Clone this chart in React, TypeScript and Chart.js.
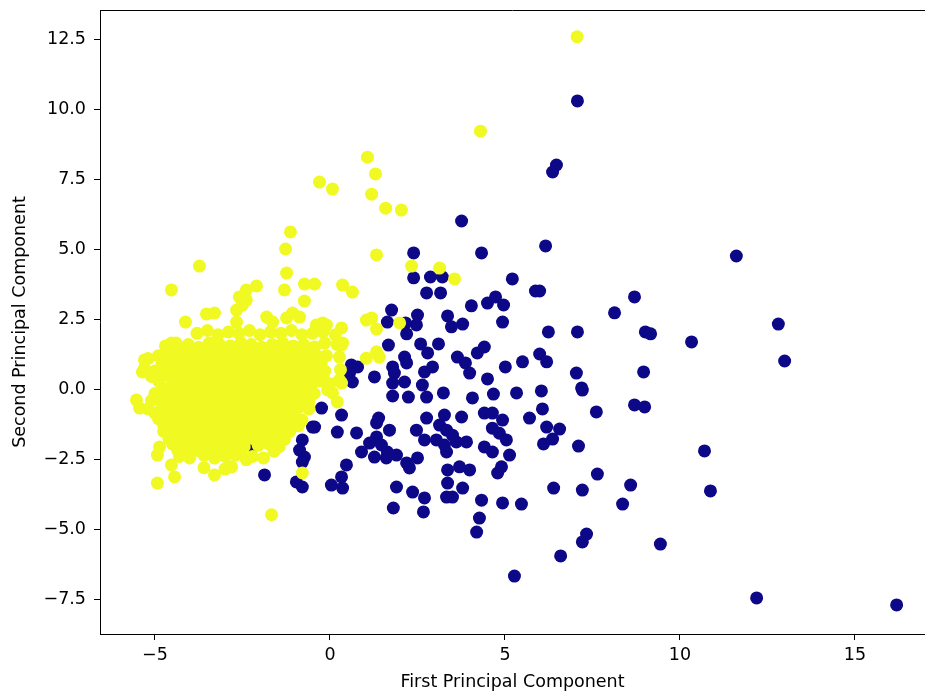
import { useEffect, useRef } from 'react';
import { Chart, registerables } from 'chart.js';

Chart.register(...registerables);

// Malignant (label 0) points: [PC1, PC2]
const malignantPoints: [number, number][] = [
  [7.07, 10.3], [6.47, 8.01], [6.36, 7.76], [3.76, 6.01], [6.16, 5.12], [2.39, 4.87], [4.33, 4.87], [11.61, 4.76],
  [5.99, 3.51], [8.7, 3.3], [8.13, 2.73], [6.24, 2.05], [7.07, 2.05], [9.01, 2.05], [9.16, 1.98], [10.33, 1.69],
  [12.81, 2.33], [12.99, 1.01], [5.99, 1.26], [6.19, 0.98], [7.04, 0.58], [7.19, 0.05], [7.21, -0.03], [8.96, 0.62],
  [6.04, -0.06], [8.7, -0.56], [8.99, -0.63], [7.61, -0.81], [6.07, -0.7], [6.19, -1.35], [6.56, -1.42], [6.36, -1.78],
  [6.1, -1.95], [7.1, -2.03], [10.7, -2.2], [7.64, -3.03], [6.39, -3.53], [7.21, -3.6], [8.59, -3.42], [8.36, -4.1],
  [10.87, -3.63], [7.33, -5.17], [7.21, -5.45], [6.59, -5.95], [9.44, -5.53], [12.19, -7.45], [16.19, -7.7], [5.27, -6.67],
  [1.79, -0.24], [2.24, -0.28], [2.76, -0.28], [3.24, -0.13], [4.07, -0.31], [4.67, -0.17], [5.33, -0.13], [0.33, -0.92],
  [1.39, -1.03], [1.33, -1.2], [2.76, -1.03], [3.27, -0.92], [3.76, -0.99], [4.41, -0.85], [4.64, -0.85], [4.93, -1.1],
  [5.7, -1.03], [-0.44, -1.35], [0.21, -1.53], [0.76, -1.56], [1.7, -1.46], [2.47, -1.46], [3.13, -1.28], [3.33, -1.46],
  [3.5, -1.64], [3.04, -1.81], [3.61, -1.88], [3.9, -1.88], [4.64, -1.39], [4.84, -1.57], [5.04, -1.81], [-0.79, -1.81],
  [-0.73, -2.42], [1.33, -1.7], [1.13, -1.92], [1.47, -1.99], [1.64, -2.24], [0.9, -2.24], [1.27, -2.42], [1.61, -2.45],
  [1.9, -2.35], [2.7, -1.81], [3.27, -1.99], [3.33, -2.24], [4.41, -2.06], [4.64, -2.24], [5.13, -2.35], [2.5, -2.45],
  [2.19, -2.63], [2.27, -2.81], [3.36, -2.88], [3.7, -2.77], [3.99, -2.88], [4.9, -2.77], [4.79, -2.99], [0.47, -2.7],
  [0.33, -3.13], [0.04, -3.42], [0.36, -3.53], [-0.79, -3.49], [3.36, -3.35], [3.79, -3.53], [1.9, -3.49], [2.36, -3.67],
  [2.7, -3.88], [3.33, -3.85], [3.5, -3.85], [4.33, -3.96], [4.93, -4.06], [5.47, -4.1], [1.81, -4.24], [2.67, -4.38],
  [4.27, -4.6], [4.19, -5.1], [2.39, 3.98], [2.87, 4.01], [3.21, 4.01], [5.21, 3.94], [2.76, 3.44], [3.16, 3.44],
  [5.87, 3.51], [4.04, 2.98], [4.5, 3.08], [4.73, 3.3], [4.96, 3.01], [1.76, 2.83], [2.5, 2.65], [3.36, 2.62],
  [1.64, 2.4], [2.16, 2.37], [2.47, 2.3], [3.47, 2.23], [3.79, 2.33], [4.93, 2.4], [2.19, 1.98], [1.67, 1.58],
  [2.59, 1.62], [3.1, 1.62], [2.79, 1.3], [3.64, 1.15], [3.87, 0.94], [4.21, 1.3], [4.41, 1.51], [2.13, 1.15],
  [2.19, 0.94], [0.61, 0.87], [0.79, 0.8], [0.56, 0.58], [0.64, 0.26], [1.27, 0.44], [1.79, 0.8], [1.84, 0.58],
  [2.7, 0.62], [2.93, 0.8], [3.99, 0.58], [4.5, 0.37], [5.01, 0.8], [5.5, 0.98], [1.79, 0.22], [2.13, 0.26],
  [2.64, 0.15], [-0.24, -0.67], [-0.5, -1.35], [-0.87, -2.17], [-0.79, -2.6], [-1.87, -3.06], [-0.96, -3.31], [-2.21, -2.03],
];

// Benign (label 1) points: [PC1, PC2]
const benignPoints: [number, number][] = [
  [7.06, 12.59], [4.3, 9.22], [1.07, 8.29], [1.3, 7.69], [-0.3, 7.4], [0.07, 7.15], [1.19, 6.97], [1.59, 6.47],
  [2.04, 6.4], [-1.13, 5.62], [-1.27, 5.01], [1.33, 4.8], [2.33, 4.4], [3.13, 4.33], [3.56, 3.94], [-3.73, 4.4],
  [-4.53, 3.55], [-1.24, 4.15], [-1.3, 3.55], [-0.73, 3.76], [-0.44, 3.76], [0.36, 3.72], [0.64, 3.47], [-0.73, 3.15],
  [-2.39, 3.55], [-2.1, 3.69], [-2.59, 3.3], [-2.39, 3.19], [-4.13, 2.4], [-3.53, 2.69], [-3.3, 2.72], [-2.67, 2.4],
  [-1.81, 2.58], [-1.64, 2.4], [-1.24, 2.55], [-0.87, 2.58], [-0.39, 2.3], [-0.1, 2.3], [0.33, 2.19], [1.04, 2.47],
  [1.19, 2.55], [1.33, 2.15], [1.99, 2.37], [-4.53, 1.65], [0.36, 1.65], [1.33, 1.34], [1.41, 1.15], [1.04, 1.11],
  [-0.44, 1.51], [-0.3, 1.15], [0.33, 1.58], [0.33, 0.22], [-0.07, -0.02], [-5.3, 1.05], [-5.36, 0.62], [-4.96, 0.62],
  [-5.53, -0.38], [-5.44, -0.67], [-4.87, -2.06], [-4.93, -2.35], [-4.53, -2.7], [-4.44, -3.13], [-4.93, -3.35], [-4.01, -2.45],
  [-3.3, -3.06], [-2.81, -2.77], [-1.67, -4.48], [-0.79, -2.99], [0.27, 0.33], [0.07, -0.13], [0.21, -0.45], [-2.21, -2.4],
  [-2.39, -2.51], [-1.07, 2.72], [-2.67, 2.83], [-2.5, 3.01], [-0.21, 2.37], [0.27, 1.15],
  [-3.8, 2.0], [-3.5, 2.1], [-3.2, 1.95], [-2.9, 2.05], [-2.6, 2.0], [-2.3, 2.1], [-2.0, 1.95], [-1.7, 2.05],
  [-1.4, 2.0], [-1.1, 2.1], [-0.8, 1.95], [-0.5, 2.0], [-0.2, 2.05], [0.15, 1.95],
  [-4.7, 1.55], [-4.4, 1.65], [-4.05, 1.6], [-3.75, 1.5], [-3.45, 1.65], [-3.15, 1.6], [-2.85, 1.55], [-2.55, 1.65],
  [-2.25, 1.6], [-1.95, 1.5], [-1.65, 1.6], [-1.35, 1.65], [-1.05, 1.55], [-0.75, 1.6], [-0.45, 1.5], [-0.15, 1.65], [0.2, 1.6],
  [-5.2, 1.1], [-4.9, 1.2], [-4.6, 1.15], [-4.3, 1.1], [-4.0, 1.2], [-3.7, 1.15], [-3.4, 1.1], [-3.1, 1.2],
  [-2.8, 1.15], [-2.5, 1.05], [-2.2, 1.15], [-1.9, 1.2], [-1.6, 1.1], [-1.3, 1.15], [-1.0, 1.2], [-0.7, 1.1],
  [-0.4, 1.15], [-0.1, 1.2],
  [-5.3, 0.75], [-5.0, 0.65], [-4.65, 0.7], [-4.35, 0.75], [-4.05, 0.65], [-3.75, 0.7], [-3.45, 0.75], [-3.15, 0.65],
  [-2.85, 0.7], [-2.55, 0.75], [-2.25, 0.7], [-1.95, 0.65], [-1.65, 0.7], [-1.35, 0.75], [-1.05, 0.65], [-0.75, 0.7],
  [-0.45, 0.75], [-0.15, 0.65], [0.3, 0.7],
  [-4.9, 0.3], [-4.5, 0.2], [-4.2, 0.25], [-3.9, 0.3], [-3.6, 0.2], [-3.3, 0.25], [-3.0, 0.3], [-2.7, 0.2],
  [-2.4, 0.25], [-2.1, 0.3], [-1.8, 0.2], [-1.5, 0.25], [-1.2, 0.3], [-0.9, 0.2], [-0.6, 0.25], [-0.3, 0.3], [0.0, 0.2],
  [-5.0, -0.15], [-4.65, -0.25], [-4.35, -0.2], [-4.05, -0.15], [-3.75, -0.25], [-3.45, -0.2], [-3.15, -0.15], [-2.85, -0.25],
  [-2.55, -0.2], [-2.25, -0.15], [-1.95, -0.25], [-1.65, -0.2], [-1.35, -0.15], [-1.05, -0.25], [-0.75, -0.2], [-0.45, -0.15],
  [-5.2, -0.7], [-4.8, -0.6], [-4.5, -0.65], [-4.2, -0.7], [-3.9, -0.6], [-3.6, -0.65], [-3.3, -0.7], [-3.0, -0.6],
  [-2.7, -0.65], [-2.4, -0.7], [-2.1, -0.6], [-1.8, -0.65], [-1.5, -0.7], [-1.2, -0.6], [-0.9, -0.65], [-0.6, -0.7],
  [-4.9, -1.05], [-4.6, -1.15], [-4.3, -1.1], [-4.0, -1.05], [-3.7, -1.15], [-3.4, -1.1], [-3.1, -1.05], [-2.8, -1.15],
  [-2.5, -1.1], [-2.2, -1.05], [-1.9, -1.15], [-1.6, -1.1], [-1.3, -1.05], [-1.05, -1.15], [-0.8, -1.1],
  [-4.75, -1.5], [-4.45, -1.6], [-4.15, -1.55], [-3.85, -1.5], [-3.55, -1.6], [-3.25, -1.55], [-2.95, -1.5], [-2.65, -1.6],
  [-2.35, -1.55], [-2.05, -1.5], [-1.75, -1.6], [-1.45, -1.55], [-1.15, -1.5],
  [-4.5, -1.95], [-4.2, -2.05], [-3.9, -2.0], [-3.6, -1.95], [-3.3, -2.05], [-3.0, -2.0], [-2.7, -1.95], [-2.45, -2.05],
  [-2.05, -2.0], [-1.75, -1.95], [-1.45, -2.05],
  [-4.3, -2.4], [-3.6, -2.35], [-3.3, -2.45], [-3.0, -2.4], [-2.7, -2.35], [-1.9, -2.45],
  [-3.6, -2.8], [-3.0, -2.85],
  [-4.55, 1.33], [-4.25, 1.38], [-3.9, 1.32], [-3.6, 1.36], [-3.3, 1.4], [-3.0, 1.31], [-2.7, 1.37], [-2.4, 1.34],
  [-2.1, 1.39], [-1.8, 1.33], [-1.5, 1.36], [-1.2, 1.31], [-0.9, 1.38], [-0.6, 1.34],
  [-4.8, 0.9], [-4.45, 0.95], [-4.15, 0.88], [-3.85, 0.93], [-3.55, 0.9], [-3.25, 0.96], [-2.95, 0.89], [-2.65, 0.92],
  [-2.35, 0.95], [-2.05, 0.88], [-1.75, 0.93], [-1.45, 0.9], [-1.15, 0.94], [-0.85, 0.89], [-0.55, 0.92], [-0.25, 0.95],
  [-5.1, 0.46], [-4.7, 0.5], [-4.4, 0.45], [-4.1, 0.49], [-3.8, 0.47], [-3.5, 0.51], [-3.2, 0.44], [-2.9, 0.48],
  [-2.6, 0.5], [-2.3, 0.45], [-2.0, 0.49], [-1.7, 0.46], [-1.4, 0.51], [-1.1, 0.47], [-0.8, 0.44], [-0.5, 0.49], [-0.2, 0.46],
  [-4.75, 0.03], [-4.45, -0.01], [-4.15, 0.04], [-3.85, 0.0], [-3.55, 0.05], [-3.25, -0.02], [-2.95, 0.03], [-2.65, 0.01],
  [-2.35, -0.01], [-2.05, 0.04], [-1.75, 0.0], [-1.45, 0.03], [-1.15, -0.02], [-0.85, 0.02], [-0.55, 0.04],
  [-5.1, -0.4], [-4.8, -0.44], [-4.5, -0.41], [-4.2, -0.45], [-3.9, -0.39], [-3.6, -0.43], [-3.3, -0.4], [-3.0, -0.44],
  [-2.7, -0.41], [-2.4, -0.38], [-2.1, -0.44], [-1.8, -0.42], [-1.5, -0.39], [-1.2, -0.43], [-0.9, -0.41], [-0.6, -0.44],
  [-5.0, -0.86], [-4.65, -0.9], [-4.35, -0.87], [-4.05, -0.91], [-3.75, -0.85], [-3.45, -0.89], [-3.15, -0.92], [-2.85, -0.86],
  [-2.55, -0.9], [-2.25, -0.88], [-1.95, -0.91], [-1.65, -0.86], [-1.35, -0.89], [-1.05, -0.87],
  [-4.75, -1.3], [-4.45, -1.34], [-4.15, -1.31], [-3.85, -1.35], [-3.55, -1.29], [-3.25, -1.33], [-2.95, -1.3], [-2.65, -1.36],
  [-2.35, -1.32], [-2.05, -1.29], [-1.75, -1.34], [-1.45, -1.31], [-1.15, -1.33], [-0.9, -1.3],
  [-4.6, -1.76], [-4.3, -1.8], [-4.0, -1.77], [-3.7, -1.81], [-3.4, -1.75], [-3.1, -1.79], [-2.8, -1.78], [-2.5, -1.82],
  [-2.2, -1.76], [-1.9, -1.8], [-1.6, -1.77], [-1.3, -1.79],
  [-4.35, -2.18], [-4.05, -2.22], [-3.75, -2.19], [-3.45, -2.21], [-3.15, -2.17], [-2.85, -2.23], [-2.55, -2.2], [-1.6, -2.21],
];

const xTicks = [-5, 0, 5, 10, 15];
const yTicks = [-7.5, -5, -2.5, 0, 2.5, 5, 7.5, 10, 12.5];
const xTitle = 'First Principal Component';
const yTitle = 'Second Principal Component';
const xRange = [-6.571, 17.0];
const yRange = [-8.74, 13.546];

const NAVY = '#0d0887';
const YELLOW = '#f0f921';
const FONT = 'DejaVu Sans';

const minus = (s: string) => s.replace('-', '\u2212');

const topSpine = {
  id: 'topSpine',
  afterDraw(chart: any) {
    const { ctx, chartArea } = chart;
    ctx.save();
    ctx.strokeStyle = '#000';
    ctx.lineWidth = 1;
    ctx.beginPath();
    ctx.moveTo(chartArea.left, chartArea.top + 0.5);
    ctx.lineTo(chartArea.right, chartArea.top + 0.5);
    ctx.stroke();
    ctx.restore();
  },
};

export default function App() {
  const ref = useRef<HTMLCanvasElement | null>(null);

  useEffect(() => {
    if (!ref.current) return;
    const chart = new Chart(ref.current, {
      type: 'scatter',
      data: {
        datasets: [
          {
            label: 'benign',
            data: benignPoints.map(([x, y]) => ({ x, y })),
            backgroundColor: YELLOW,
            borderWidth: 0,
            pointRadius: 6.5,
            pointHoverRadius: 6.5,
          },
          {
            label: 'malignant',
            data: malignantPoints.map(([x, y]) => ({ x, y })),
            backgroundColor: NAVY,
            borderWidth: 0,
            pointRadius: 6.5,
            pointHoverRadius: 6.5,
          },
        ],
      },
      options: {
        animation: false,
        responsive: false,
        maintainAspectRatio: false,
        events: [],
        layout: { autoPadding: false, padding: { top: 10, right: 0, left: 0, bottom: 0 } },
        plugins: { legend: { display: false }, tooltip: { enabled: false } },
        scales: {
          x: {
            type: 'linear',
            min: xRange[0],
            max: xRange[1],
            afterFit: (s: any) => { s.height = 60; s.paddingLeft = 0; s.paddingRight = 0; },
            afterBuildTicks: (s: any) => { s.ticks = xTicks.map((v) => ({ value: v })); },
            grid: { drawOnChartArea: false, drawTicks: true, tickLength: 6, color: '#000', lineWidth: 1 },
            border: { display: true, color: '#000', width: 1 },
            ticks: {
              color: '#000',
              padding: 5,
              maxRotation: 0,
              font: { family: FONT, size: 17.5 },
              callback: (v: any) => minus(String(v)),
            },
            title: {
              display: true,
              text: xTitle,
              color: '#000',
              font: { family: FONT, size: 17.5 },
              padding: { top: 0, bottom: 1 },
            },
          },
          y: {
            type: 'linear',
            min: yRange[0],
            max: yRange[1],
            afterFit: (s: any) => { s.width = 100; s.paddingTop = 0; s.paddingBottom = 0; },
            afterBuildTicks: (s: any) => { s.ticks = yTicks.map((v) => ({ value: v })); },
            grid: { drawOnChartArea: false, drawTicks: true, tickLength: 6, color: '#000', lineWidth: 1 },
            border: { display: true, color: '#000', width: 1 },
            ticks: {
              color: '#000',
              padding: 8,
              font: { family: FONT, size: 17.5 },
              callback: (v: any) => minus(Number(v).toFixed(1)),
            },
            title: {
              display: true,
              text: yTitle,
              color: '#000',
              font: { family: FONT, size: 17.5 },
              padding: { top: 10, bottom: 0 },
            },
          },
        },
      },
      plugins: [topSpine],
    } as any);
    return () => chart.destroy();
  }, []);

  return (
    <div style={{ position: 'fixed', left: 0, top: 0, width: 925, height: 694, background: '#fff' }}>
      <canvas ref={ref} width={925} height={694} style={{ display: 'block', width: 925, height: 694 }} />
    </div>
  );
}
